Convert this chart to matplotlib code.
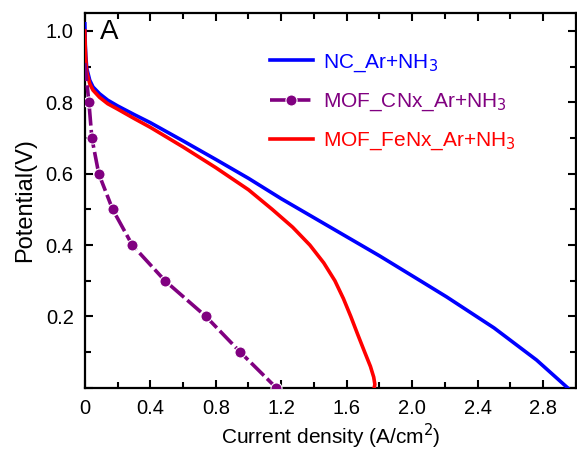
import numpy as np
import matplotlib.pyplot as plt
from matplotlib.ticker import MultipleLocator, FuncFormatter

plt.rcParams['font.family'] = ['Liberation Sans', 'DejaVu Sans']

# NC_Ar+NH3 (blue)
nc_j = [0.0, 0.003, 0.006, 0.012, 0.03, 0.05, 0.09, 0.14, 0.2, 0.3, 0.4, 0.6, 0.8, 1.0, 1.2,
        1.5, 1.8, 2.05, 2.21, 2.5, 2.76, 2.95]
nc_v = [1.02, 0.96, 0.93, 0.895, 0.862, 0.843, 0.824, 0.806, 0.79, 0.766, 0.743, 0.692, 0.64,
        0.587, 0.53, 0.45, 0.37, 0.30, 0.255, 0.168, 0.078, 0.0]

# MOF_CNx_Ar+NH3 (purple, markers)
cnx_j = [0.0, 0.025, 0.043, 0.085, 0.17, 0.29, 0.49, 0.74, 0.95, 1.17]
cnx_v = [0.91, 0.8, 0.7, 0.6, 0.5, 0.4, 0.3, 0.2, 0.1, 0.0]

# MOF_FeNx_Ar+NH3 (red)
fenx_j = [0.0, 0.003, 0.006, 0.012, 0.03, 0.05, 0.09, 0.14, 0.2, 0.3, 0.4, 0.6, 0.8, 1.0,
          1.145, 1.27, 1.375, 1.46, 1.528, 1.58, 1.625, 1.667, 1.71, 1.745, 1.765, 1.772, 1.768]
fenx_v = [1.0, 0.95, 0.92, 0.885, 0.852, 0.834, 0.814, 0.796, 0.781, 0.755, 0.73, 0.675, 0.617,
          0.555, 0.5, 0.45, 0.40, 0.35, 0.30, 0.25, 0.20, 0.15, 0.10, 0.06, 0.03, 0.01, 0.0]

fig = plt.figure(figsize=(5.77, 4.51), dpi=100)
ax = fig.add_axes([0.147, 0.140, 0.851, 0.831])

ax.plot(nc_j, nc_v, color='#0000ff', lw=2.6, label='NC_Ar+NH$_3$', zorder=3)
ax.plot(cnx_j, cnx_v, color='#800080', lw=2.6, ls=(0, (5, 1.2)),
        marker='o', ms=8, mfc='#800080', mec='white', mew=0.8,
        markevery=list(range(1, len(cnx_j))), label='MOF_CNx_Ar+NH$_3$', zorder=4)
ax.plot(fenx_j, fenx_v, color='#ff0000', lw=2.6, label='MOF_FeNx_Ar+NH$_3$', zorder=3)

ax.set_xlim(0, 3.0)
ax.set_ylim(0, 1.05)
ax.xaxis.set_major_locator(MultipleLocator(0.4))
ax.xaxis.set_minor_locator(MultipleLocator(0.2))
ax.yaxis.set_major_locator(MultipleLocator(0.2))
ax.yaxis.set_minor_locator(MultipleLocator(0.1))
ax.xaxis.set_major_formatter(FuncFormatter(lambda v, p: '0' if abs(v) < 1e-9 else '%.1f' % v))
ax.yaxis.set_major_formatter(FuncFormatter(lambda v, p: '' if abs(v) < 1e-9 else '%.1f' % v))

ax.tick_params(which='both', direction='in', top=True, right=True, width=1.5, labelsize=14.5)
ax.tick_params(which='major', length=6, pad=8)
ax.tick_params(which='minor', length=4)
for s in ax.spines.values():
    s.set_linewidth(1.6)

ax.set_xlabel('Current density (A/cm$^2$)', fontsize=15, labelpad=3)
ax.set_ylabel('Potential(V)', fontsize=17, labelpad=7)
ax.text(0.03, 0.985, 'A', transform=ax.transAxes, fontsize=20, va='top', ha='left')

leg = ax.legend(loc='upper left', bbox_to_anchor=(0.338, 0.945), frameon=False,
                fontsize=15, handlelength=2.1, handletextpad=0.48, labelspacing=0.85)
for txt, line in zip(leg.get_texts(), leg.get_lines()):
    txt.set_color(line.get_color())

fig.savefig('out.png', dpi=100)
